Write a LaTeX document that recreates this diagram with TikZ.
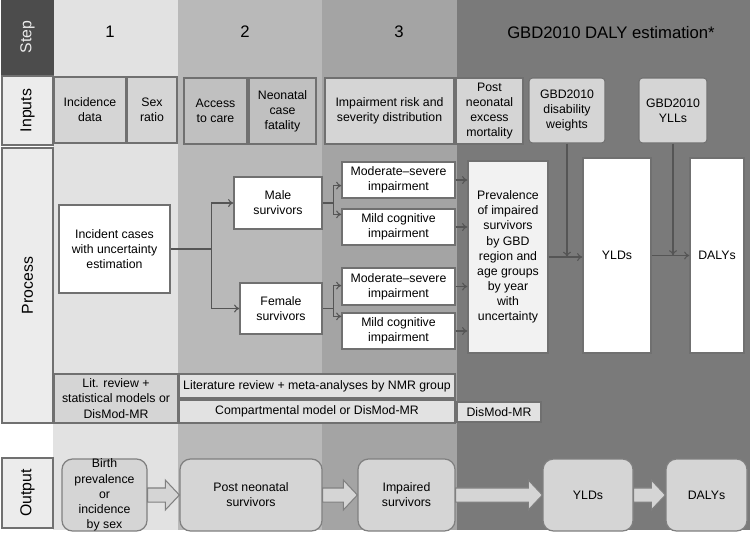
\documentclass[tikz,border=0pt]{standalone}
\usepackage{fontspec}
\setmainfont{Liberation Sans}
\usetikzlibrary{arrows.meta,calc,positioning}

\definecolor{colone}{HTML}{E2E2E2}
\definecolor{coltwo}{HTML}{B9B9B9}
\definecolor{colthree}{HTML}{A4A4A4}
\definecolor{colgbd}{HTML}{7A7A7A}
\definecolor{stepdark}{HTML}{4C4C4C}
\definecolor{cellfill}{HTML}{ECECEC}
\definecolor{inpfill}{HTML}{D5D5D5}
\definecolor{edgegray}{HTML}{707070}
\definecolor{linegray}{HTML}{555555}

\tikzset{
  every node/.style={font=\fontsize{7}{8.6}\selectfont, inner sep=0pt, align=center},
  % box spanning the corners (#1,#2) and (#3,#4), in pixels
  area/.style n args={4}{at={($(#1,#2)!0.5!(#3,#4)$)},
    minimum width={(#3-#1)*0.02cm}, minimum height={(#4-#2)*0.02cm}},
  sidecell/.style={draw=edgegray, fill=cellfill, line width=0.6pt},
  sidetext/.style={rotate=90, font=\fontsize{9}{10}\selectfont},
  inpbox/.style={draw=edgegray, fill=inpfill, line width=0.6pt},
  procbox/.style={draw=edgegray, fill=white, line width=0.7pt},
  methbox/.style={draw=edgegray, fill=inpfill!70!white, line width=0.6pt},
  outbox/.style={draw=gray, fill=inpfill, line width=0.7pt, rounded corners=6pt},
  head/.style={font=\fontsize{9.5}{11}\selectfont},
  conn/.style={draw=linegray, line width=0.6pt},
  connarr/.style={conn, -{To[length=3pt,width=4.5pt]}},
  fatarrow/.style={draw=gray, fill=inpfill, line width=0.6pt,
    to path={let \p1=(\tikztostart), \p2=(\tikztotarget) in
      ({\x1},{\y1+4pt}) -- ({\x2-8pt},{\y1+4pt}) -- ({\x2-8pt},{\y1+8.5pt}) -- ({\x2},{\y1})
      -- ({\x2-8pt},{\y1-8.5pt}) -- ({\x2-8pt},{\y1-4pt}) -- ({\x1},{\y1-4pt}) -- cycle}}
}

\begin{document}
\begin{tikzpicture}[x=0.02cm,y=-0.02cm]
    \useasboundingbox (0,0) rectangle (750,538);
    % column backgrounds
    \fill[colone] (53,0) rectangle (178,530);
    \fill[coltwo] (178,0) rectangle (322,530);
    \fill[colthree] (322,0) rectangle (457,530);
    \fill[colgbd] (457,0) rectangle (750,530);

    % side labels
    \node[sidecell, fill=stepdark, draw=stepdark, area={2}{0}{53}{74}] (stepcell) {};
    \node[sidecell, area={2}{76}{53}{145}] (inpcell) {};
    \node[sidecell, area={2}{148}{53}{423}] (proccell) {};
    \node[sidecell, area={2}{458}{53}{528}] (outcell) {};
    \node[sidetext, text=cellfill] (steplbl) at (stepcell.center) {Step};
    \node[sidetext] (inplbl) at (inpcell.center) {Inputs};
    \node[sidetext] (proclbl) at (proccell.center) {Process};
    \node[sidetext] (outlbl) at (outcell.center) {Output};

    % step headers
    \node[head] (stepone) at (110,32) {1};
    \node[head] (steptwo) at (245,32) {2};
    \node[head] (stepthree) at (399,32) {3};
    \node[head] (stepgbd) at (611,33) {GBD2010 DALY estimation*};

    % inputs
    \node[inpbox, area={54}{77}{126}{143}] (incdata) {Incidence\\data};
    \node[inpbox, area={127}{77}{177}{143}] (sexratio) {Sex\\ratio};
    \node[inpbox, fill=inpfill!90!black, area={184}{78}{247}{144}] (access) {Access\\to care};
    \node[inpbox, fill=inpfill!90!black, area={249}{78}{316}{144}] (casefat) {Neonatal\\case\\fatality};
    \node[inpbox, area={325}{78}{454}{144}] (imprisk) {Impairment risk and\\severity distribution};
    \node[inpbox, area={456}{78}{523}{144}] (excmort) {Post\\neonatal\\excess\\mortality};
    \node[inpbox, rounded corners=2pt, area={529}{78}{605}{143}] (dweights) {GBD2010\\disability\\weights};
    \node[inpbox, rounded corners=2pt, area={639}{78}{707}{143}] (ylls) {GBD2010\\YLLs};

    % process
    \node[procbox, area={59}{205}{170}{293}] (incident) {Incident cases\\with uncertainty\\estimation};
    \node[procbox, area={234}{177}{322}{229}] (male) {Male\\survivors};
    \node[procbox, area={240}{283}{322}{334}] (female) {Female\\survivors};
    \node[procbox, area={342}{162}{455}{198}] (modsevm) {Moderate--severe\\impairment};
    \node[procbox, area={342}{209}{455}{245}] (mildm) {Mild cognitive\\impairment};
    \node[procbox, area={342}{268}{455}{305}] (modsevf) {Moderate--severe\\impairment};
    \node[procbox, area={342}{313}{455}{349}] (mildf) {Mild cognitive\\impairment};
    \node[procbox, fill=white!95!black, area={468}{161}{548}{353}] (prev) {Prevalence\\of impaired\\survivors\\by GBD\\region and\\age groups\\by year\\with\\uncertainty};
    \node[procbox, area={583}{158}{651}{353}] (ylds) {YLDs};
    \node[procbox, area={690}{158}{744}{353}] (dalys) {DALYs};

    \draw[conn] (incident.east) -- ++(41,0) coordinate (forkinc);
    \draw[connarr] (forkinc) |- (male.west);
    \draw[connarr] (forkinc) |- (female.west);
    \draw[conn] (male.east) -- ++(11,0) coordinate (forkmale);
    \draw[connarr] (forkmale) |- ($(modsevm.south west)+(0,-13)$);
    \draw[connarr] (forkmale) |- ($(mildm.north west)+(0,6)$);
    \draw[conn] (female.east) -- ++(11,0) coordinate (forkfem);
    \draw[connarr] (forkfem) |- ($(modsevf.south west)+(0,-20)$);
    \draw[connarr] (forkfem) |- ($(mildf.north west)+(0,4)$);
    \draw[connarr] (modsevm.east) -- (modsevm.east -| prev.west);
    \draw[connarr] (mildm.east) -- (mildm.east -| prev.west);
    \draw[connarr] (modsevf.east) -- (modsevf.east -| prev.west);
    \draw[connarr] (mildf.east) -- (mildf.east -| prev.west);
    \draw[connarr] (prev.east) -- (prev.east -| ylds.west);
    \draw[connarr] (dweights.south) -- (dweights.south |- prev.east);
    \draw[connarr] (ylds.east) -- (ylds.east -| dalys.west);
    \draw[connarr] (ylls.south) -- (ylls.south |- ylds.east);

    % methods
    \node[methbox, fill=inpfill, area={54}{374}{178}{423}] (litrev) {Lit. review +\\statistical models or\\DisMod-MR};
    \node[methbox, area={179}{374}{455}{398}] (metaan) {Literature review + meta-analyses by NMR group};
    \node[methbox, area={179}{400}{455}{423}] (compart) {Compartmental model or DisMod-MR};
    \node[methbox, area={457}{402}{541}{422}] (dismod) {DisMod-MR};

    % output
    \node[outbox, area={62}{459}{147}{531}] (birth) {Birth\\prevalence\\or\\incidence\\by sex};
    \node[outbox, area={180}{459}{322}{531}] (postneo) {Post neonatal\\survivors};
    \node[outbox, area={358}{459}{455}{531}] (impsurv) {Impaired\\survivors};
    \node[outbox, area={543}{459}{633}{531}] (outylds) {YLDs};
    \node[outbox, area={666}{459}{747}{531}] (outdalys) {DALYs};

    \draw[fatarrow] (birth.east) to (postneo.west);
    \draw[fatarrow] (postneo.east) to (impsurv.west);
    \draw[fatarrow] (impsurv.east) to (outylds.west);
    \draw[fatarrow] (outylds.east) to (outdalys.west);
\end{tikzpicture}
\end{document}
